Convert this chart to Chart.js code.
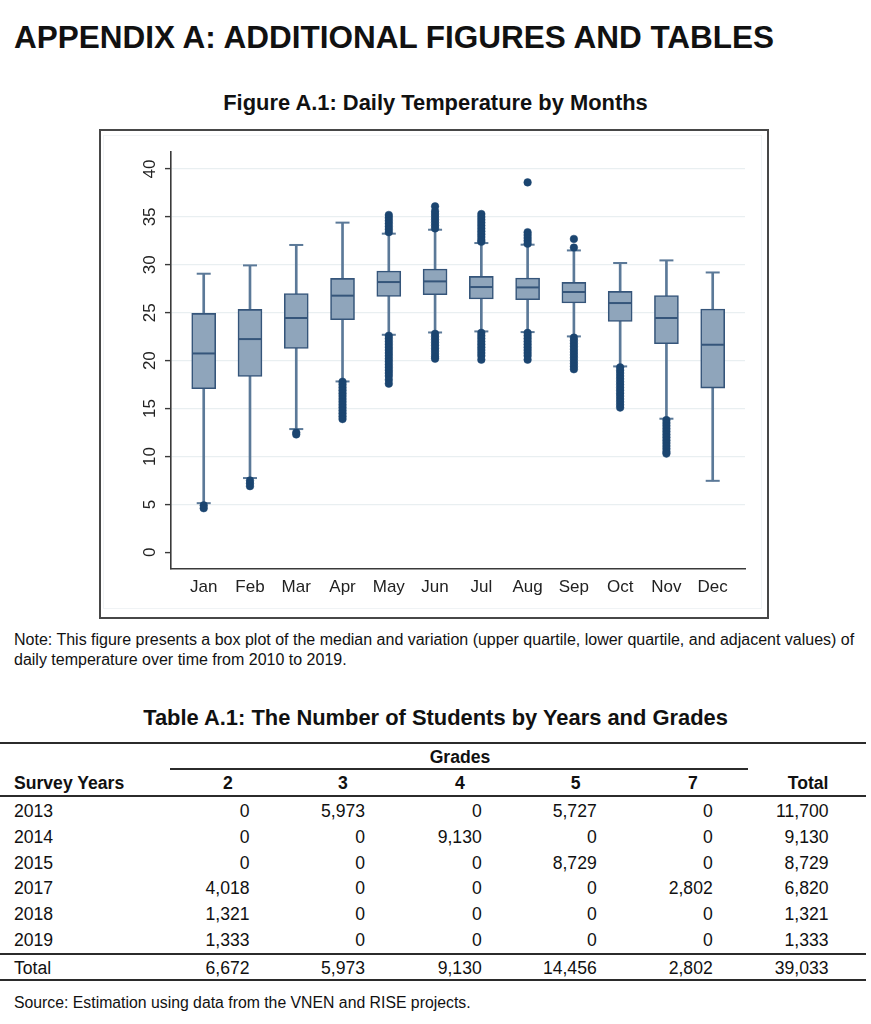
<!DOCTYPE html>
<html>
<head>
<meta charset="utf-8">
<script src="https://cdn.jsdelivr.net/npm/chart.js@4.4.1/dist/chart.umd.min.js"></script>
<style>
  html, body { margin:0; padding:0; background:#fff; }
  body { width:871px; height:1024px; position:relative; overflow:hidden; font-family:"Liberation Sans", Arial, sans-serif; color:#111; }
  .abs { position:absolute; white-space:nowrap; }
  #headline { left:14px; top:19px; font-size:31.5px; line-height:36px; font-weight:bold; }
  #figtitle { left:0; width:871px; text-align:center; top:90px; font-size:21.9px; line-height:26px; font-weight:bold; }
  #frame { position:absolute; left:99px; top:129px; width:670px; height:490px; box-sizing:border-box; border:2px solid #474747; }
  #inner { position:absolute; left:103px; top:135px; width:659px; height:474px; box-sizing:border-box; border:1px solid #f0f3f5; }
  #chartBox { position:absolute; left:101px; top:131px; width:666px; height:486px; }
  #note { left:14px; top:630px; font-size:16px; line-height:20px; }
  #tabtitle { left:0; width:871px; text-align:center; top:705px; font-size:21.9px; line-height:26px; font-weight:bold; }
  .rule { position:absolute; height:2px; background:#2b2b2b; }
  .cell { position:absolute; font-size:17.6px; line-height:20px; white-space:nowrap; }
  .hdr { font-weight:bold; }
  #source { left:14px; top:993px; font-size:15.8px; line-height:20px; }
</style>
</head>
<body>
<div id="headline" class="abs">APPENDIX A: ADDITIONAL FIGURES AND TABLES</div>
<div id="figtitle" class="abs">Figure A.1: Daily Temperature by Months</div>
<div id="frame"></div>
<div id="inner"></div>
<div id="chartBox"><canvas id="c" width="666" height="486"></canvas></div>
<div id="note" class="abs">Note: This figure presents a box plot of the median and variation (upper quartile, lower quartile, and adjacent values) of<br>daily temperature over time from 2010 to 2019.</div>
<div id="tabtitle" class="abs">Table A.1: The Number of Students by Years and Grades</div>
<div id="table"></div>
<div id="source" class="abs">Source: Estimation using data from the VNEN and RISE projects.</div>
<script>
// ---------- Figure data ----------
const months = ['Jan','Feb','Mar','Apr','May','Jun','Jul','Aug','Sep','Oct','Nov','Dec'];
const whiskerLow  = [5.13, 7.75, 12.86, 17.83, 22.70, 22.94, 23.05, 22.98, 22.53, 19.40, 13.94, 7.46];
const q1          = [17.07, 18.35, 21.27, 24.27, 26.70, 26.88, 26.43, 26.36, 26.01, 24.09, 21.76, 17.14];
const median      = [20.75, 22.25, 24.45, 26.78, 28.20, 28.27, 27.68, 27.64, 27.16, 26.01, 24.45, 21.66];
const q3          = [24.93, 25.35, 27.00, 28.58, 29.35, 29.56, 28.79, 28.62, 28.16, 27.22, 26.80, 25.38];
const whiskerHigh = [29.07, 29.94, 32.07, 34.40, 33.25, 33.66, 32.27, 32.10, 31.50, 30.19, 30.46, 29.20];
const outJan = [4.9, 4.6];
const outFeb = [7.5, 7.2, 6.9];
const outMar = [12.5, 12.3];
const outApr = [17.8, 17.5, 17.2, 16.9, 16.6, 16.3, 16.0, 15.7, 15.4, 15.1, 14.8, 14.5, 14.2, 13.9];
const outMay = [35.2, 34.9, 34.6, 34.3, 34.0, 33.7, 33.4, 22.6, 22.3, 22.0, 21.7, 21.4, 21.1, 20.8, 20.5, 20.2, 19.9, 19.6, 19.3, 19.0, 18.7, 18.4, 18.0, 17.6];
const outJun = [36.1, 35.6, 35.3, 35.0, 34.7, 34.4, 34.1, 33.8, 22.8, 22.5, 22.2, 21.9, 21.6, 21.3, 21.0, 20.7, 20.4, 20.2];
const outJul = [35.3, 35.0, 34.7, 34.4, 34.1, 33.8, 33.5, 33.2, 32.9, 32.6, 32.4, 22.9, 22.6, 22.3, 22.0, 21.7, 21.4, 21.1, 20.8, 20.5, 20.1];
const outAug = [38.6, 33.4, 33.1, 32.8, 32.5, 32.2, 22.9, 22.6, 22.3, 22.0, 21.7, 21.4, 21.1, 20.8, 20.5, 20.1];
const outSep = [32.7, 31.8, 22.4, 22.1, 21.8, 21.5, 21.2, 20.9, 20.6, 20.3, 20.0, 19.7, 19.4, 19.1];
const outOct = [19.3, 19.0, 18.7, 18.4, 18.1, 17.8, 17.5, 17.2, 16.9, 16.6, 16.3, 16.0, 15.7, 15.4, 15.1];
const outNov = [13.8, 13.5, 13.2, 12.9, 12.6, 12.3, 12.0, 11.7, 11.4, 11.1, 10.8, 10.5, 10.3];
const outDec = [];
const outliers = [outJan,outFeb,outMar,outApr,outMay,outJun,outJul,outAug,outSep,outOct,outNov,outDec];
const yTickValues = [0, 5, 10, 15, 20, 25, 30, 35, 40];
const yTickLabels = ['0', '5', '10', '15', '20', '25', '30', '35', '40'];

// ---------- Table data ----------
const surveyYears = ['2013','2014','2015','2017','2018','2019'];
const gradeLabels = ['2','3','4','5','7'];
const grade2 = [0, 0, 0, 4018, 1321, 1333];
const grade3 = [5973, 0, 0, 0, 0, 0];
const grade4 = [0, 9130, 0, 0, 0, 0];
const grade5 = [5727, 0, 8729, 0, 0, 0];
const grade7 = [0, 0, 0, 2802, 0, 0];
const rowTotals = [11700, 9130, 8729, 6820, 1321, 1333];
const colTotals = [6672, 5973, 9130, 14456, 2802, 39033];

// ---------- Chart ----------
const FONT = '"Liberation Sans", Arial, sans-serif';
const boxFill = '#8fa5bb', boxLine = '#35557a', whiskerCol = '#5b7998', dotCol = '#1b4570';

const boxData = months.map((m,i)=>({x:i, y:[q1[i], q3[i]]}));
const whiskerData = months.map((m,i)=>({x:i, y:[whiskerLow[i], whiskerHigh[i]]}));
const medianData = months.map((m,i)=>({x:i, y:median[i]}));
const capData = [];
months.forEach((m,i)=>{ capData.push({x:i, y:whiskerLow[i]}); capData.push({x:i, y:whiskerHigh[i]}); });
const outData = [];
outliers.forEach((arr,i)=>arr.forEach(v=>outData.push({x:i, y:v})));

const yLabelPlugin = {
  id: 'yLabels',
  afterDraw(chart) {
    const s = chart.scales.y, ctx = chart.ctx;
    ctx.save();
    ctx.font = '17px ' + FONT;
    ctx.fillStyle = '#222';
    ctx.textAlign = 'center';
    ctx.textBaseline = 'middle';
    yTickValues.forEach((v,k)=>{
      const py = s.getPixelForValue(v);
      ctx.save();
      ctx.translate(s.right - 21, py);
      ctx.rotate(-Math.PI/2);
      ctx.fillText(yTickLabels[k], 0, 0);
      ctx.restore();
    });
    ctx.restore();
  }
};

new Chart(document.getElementById('c'), {
  type: 'bar',
  data: {
    datasets: [
      { type:'bar', data: whiskerData, backgroundColor: whiskerCol, borderWidth:0, barThickness:2, grouped:false, order:4 },
      { type:'bar', data: boxData, backgroundColor: boxFill, borderColor: boxLine, borderWidth:1.6, borderSkipped:false, barThickness:24, grouped:false, order:3 },
      { type:'scatter', data: capData, pointStyle:'line', pointRadius:7, borderColor: whiskerCol, borderWidth:2, order:2 },
      { type:'scatter', data: medianData, pointStyle:'line', pointRadius:11.3, borderColor: boxLine, borderWidth:2, order:1 },
      { type:'scatter', data: outData, pointStyle:'circle', pointRadius:3.8, backgroundColor: dotCol, borderColor: dotCol, borderWidth:0.5, order:0 }
    ]
  },
  options: {
    responsive:false, animation:false, devicePixelRatio:1, events:[],
    layout: { padding: { top:21, right:22, left:0, bottom:0 } },
    plugins: { legend:{display:false}, tooltip:{enabled:false} },
    scales: {
      x: {
        type:'linear', min:-0.707, max:11.698, offset:false,
        afterBuildTicks: s => { s.ticks = months.map((m,i)=>({value:i})); },
        afterFit: s => { s.height = 48; },
        grid: { display:false, drawTicks:false, offset:false },
        border: { display:true, color:'#3a3a3a', width:1.6 },
        ticks: { callback: v => months[v], font:{family:FONT, size:17}, color:'#222', padding:8.5, maxRotation:0, autoSkip:false }
      },
      y: {
        type:'linear', min:-1.74, max:41.77,
        afterBuildTicks: s => { s.ticks = yTickValues.map(v=>({value:v})); },
        afterFit: s => { s.width = 70; },
        grid: { color: c => (c.tick && c.tick.value === 0) ? 'rgba(0,0,0,0)' : '#e9eff1', lineWidth:1.2, drawTicks:true, tickLength:6, tickColor:'#3a3a3a', tickWidth:1.4 },
        border: { display:true, color:'#3a3a3a', width:1.6 },
        ticks: { display:false }
      }
    }
  },
  plugins: [yLabelPlugin]
});

// ---------- Table ----------
(function(){
  const T = document.getElementById('table');
  const fmt = n => n.toLocaleString('en-US');
  function rule(x1, x2, y){ const d=document.createElement('div'); d.className='rule'; d.style.left=x1+'px'; d.style.width=(x2-x1)+'px'; d.style.top=(y-1)+'px'; T.appendChild(d); }
  function cell(text, cy, opts){
    const d=document.createElement('div'); d.className='cell'+(opts.bold?' hdr':''); d.textContent=text;
    d.style.top=(cy-10)+'px';
    if (opts.right!==undefined){ d.style.right=(871-opts.right)+'px'; d.style.textAlign='right'; }
    else if (opts.center!==undefined){ d.style.left=(opts.center-100)+'px'; d.style.width='200px'; d.style.textAlign='center'; }
    else { d.style.left=opts.left+'px'; }
    T.appendChild(d);
  }
  const colRight = [249.5, 365, 481.7, 596.7, 712.7];
  const colHdrCenter = [228, 343, 460, 575.7, 693];
  const totalRight = 828.5;
  rule(0, 866, 742.5);
  cell('Grades', 757, {bold:true, center:460});
  rule(170, 748, 769);
  cell('Survey Years', 783, {bold:true, left:14});
  gradeLabels.forEach((g,k)=>cell(g, 783, {bold:true, center:colHdrCenter[k]}));
  cell('Total', 783, {bold:true, right:totalRight});
  rule(0, 866, 795.5);
  const cols = [grade2, grade3, grade4, grade5, grade7];
  const rowY = [811, 836.8, 862.6, 888.2, 914.2, 940.4];
  surveyYears.forEach((yr,r)=>{
    cell(yr, rowY[r], {left:14});
    cols.forEach((col,k)=>cell(fmt(col[r]), rowY[r], {right:colRight[k]}));
    cell(fmt(rowTotals[r]), rowY[r], {right:totalRight});
  });
  rule(0, 866, 953.5);
  cell('Total', 967.5, {left:14});
  colTotals.slice(0,5).forEach((v,k)=>cell(fmt(v), 967.5, {right:colRight[k]}));
  cell(fmt(colTotals[5]), 967.5, {right:totalRight});
  rule(0, 866, 980);
})();
</script>
</body>
</html>
